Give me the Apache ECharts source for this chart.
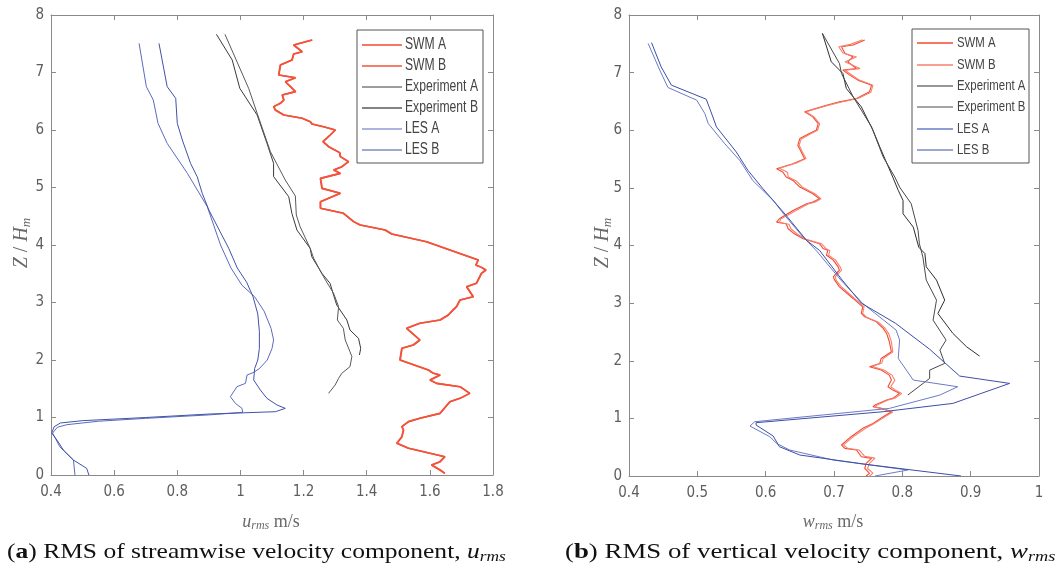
<!DOCTYPE html>
<html><head><meta charset="utf-8">
<script src="https://cdn.jsdelivr.net/npm/echarts@6/dist/echarts.min.js"></script>
<style>html,body{margin:0;padding:0;background:#fff}#c{width:1061px;height:574px}</style>
</head><body><div id="c"></div>
<script>
// ---------- tick labels ----------
const uTicks = [0.4, 0.6, 0.8, 1.0, 1.2, 1.4, 1.6, 1.8];
const wTicks = [0.4, 0.5, 0.6, 0.7, 0.8, 0.9, 1.0];
const zTicks = [0, 1, 2, 3, 4, 5, 6, 7, 8];
const seriesNames = ['SWM A', 'SWM B', 'Experiment A', 'Experiment B', 'LES A', 'LES B'];

// ---------- (a) u_rms  [value, Z/Hm] ----------
const swmA_u = [[1.226,7.565],[1.168,7.478],[1.195,7.362],[1.168,7.32],[1.163,7.217],[1.126,7.13],[1.121,6.957],[1.174,6.91],[1.142,6.84],[1.174,6.667],[1.132,6.609],[1.137,6.522],[1.126,6.464],[1.105,6.406],[1.11,6.348],[1.137,6.261],[1.195,6.203],[1.221,6.145],[1.226,6.104],[1.263,6.058],[1.3,6.0],[1.284,5.913],[1.261,5.797],[1.279,5.71],[1.314,5.606],[1.316,5.536],[1.342,5.449],[1.321,5.362],[1.295,5.304],[1.316,5.246],[1.253,5.159],[1.258,4.985],[1.316,4.899],[1.253,4.754],[1.253,4.638],[1.326,4.551],[1.358,4.406],[1.379,4.348],[1.458,4.261],[1.479,4.191],[1.589,4.058],[1.663,3.913],[1.753,3.739],[1.745,3.652],[1.763,3.611],[1.777,3.565],[1.763,3.507],[1.747,3.333],[1.716,3.275],[1.737,3.101],[1.695,3.043],[1.684,2.928],[1.668,2.841],[1.658,2.783],[1.632,2.696],[1.568,2.638],[1.526,2.551],[1.568,2.348],[1.547,2.261],[1.511,2.203],[1.505,2.0],[1.595,1.826],[1.611,1.768],[1.632,1.739],[1.6,1.652],[1.621,1.594],[1.695,1.536],[1.726,1.42],[1.695,1.333],[1.663,1.275],[1.632,1.072],[1.568,0.986],[1.532,0.928],[1.511,0.841],[1.516,0.783],[1.511,0.667],[1.495,0.551],[1.532,0.464],[1.6,0.377],[1.647,0.319],[1.632,0.232],[1.605,0.174],[1.632,0.087],[1.647,0.029]];
const swmB_u = [[1.228,7.565],[1.170,7.478],[1.196,7.362],[1.169,7.32],[1.164,7.217],[1.127,7.13],[1.122,6.957],[1.175,6.91],[1.143,6.84],[1.175,6.667],[1.133,6.609],[1.138,6.522],[1.127,6.464],[1.106,6.406],[1.111,6.348],[1.138,6.261],[1.196,6.203],[1.222,6.145],[1.227,6.104],[1.264,6.058],[1.301,6.0],[1.285,5.913],[1.262,5.797],[1.280,5.71],[1.315,5.606],[1.317,5.536],[1.343,5.449],[1.322,5.362],[1.296,5.304],[1.317,5.246],[1.254,5.159],[1.259,4.985],[1.317,4.899],[1.254,4.754],[1.254,4.638],[1.327,4.551],[1.359,4.406],[1.380,4.348],[1.459,4.261],[1.480,4.191],[1.590,4.058],[1.664,3.913],[1.754,3.739],[1.746,3.652],[1.764,3.611],[1.778,3.565],[1.764,3.507],[1.748,3.333],[1.717,3.275],[1.738,3.101],[1.696,3.043],[1.685,2.928],[1.669,2.841],[1.659,2.783],[1.633,2.696],[1.569,2.638],[1.527,2.551],[1.569,2.348],[1.548,2.261],[1.512,2.203],[1.506,2.0],[1.596,1.826],[1.612,1.768],[1.633,1.739],[1.601,1.652],[1.622,1.594],[1.696,1.536],[1.727,1.42],[1.696,1.333],[1.664,1.275],[1.633,1.072],[1.569,0.986],[1.533,0.928],[1.512,0.841],[1.517,0.783],[1.512,0.667],[1.496,0.551],[1.533,0.464],[1.601,0.377],[1.648,0.319],[1.633,0.232],[1.606,0.174],[1.633,0.087],[1.648,0.029]];
const expA_u = [[0.924,7.664],[0.974,7.217],[0.998,6.725],[1.053,6.26],[1.084,5.77],[1.105,5.42],[1.105,5.19],[1.153,4.84],[1.163,4.55],[1.179,4.26],[1.221,3.94],[1.226,3.797],[1.258,3.507],[1.284,3.333],[1.295,3.13],[1.305,2.957],[1.337,2.696],[1.347,2.522],[1.374,2.377],[1.381,2.203],[1.377,2.087]];
const expB_u = [[0.951,7.664],[1.026,6.725],[1.053,6.29],[1.095,5.623],[1.142,5.13],[1.174,4.852],[1.177,4.522],[1.189,4.319],[1.221,3.942],[1.232,3.768],[1.263,3.449],[1.295,3.159],[1.311,2.928],[1.307,2.696],[1.326,2.551],[1.332,2.348],[1.347,2.145],[1.353,2.058],[1.347,1.884],[1.321,1.768],[1.311,1.681],[1.3,1.565],[1.279,1.42]];
const lesA_u = [[0.679,7.507],[0.702,6.754],[0.724,6.522],[0.739,6.116],[0.768,5.768],[0.832,5.246],[0.895,4.667],[0.937,4.0],[0.97,3.6],[1.005,3.3],[1.045,3.1],[1.075,2.85],[1.097,2.55],[1.105,2.35],[1.10,2.2],[1.085,2.0],[1.06,1.85],[1.04,1.78],[1.021,1.739],[1.016,1.594],[0.989,1.536],[0.968,1.362],[0.984,1.246],[1.005,1.159],[1.007,1.09],[0.9,1.045],[0.7,0.985],[0.55,0.935],[0.45,0.875],[0.42,0.83],[0.405,0.73],[0.428,0.49],[0.471,0.26],[0.476,0.0]];
const lesB_u = [[0.742,7.507],[0.768,6.754],[0.795,6.551],[0.8,6.116],[0.816,5.826],[0.842,5.42],[0.863,5.188],[0.879,4.899],[0.9,4.609],[0.963,3.942],[0.99,3.6],[1.02,3.35],[1.04,3.1],[1.055,2.8],[1.06,2.5],[1.06,2.2],[1.055,2.0],[1.045,1.85],[1.042,1.652],[1.063,1.478],[1.084,1.333],[1.116,1.217],[1.142,1.159],[1.111,1.101],[0.9,1.06],[0.7,1.0],[0.5,0.945],[0.43,0.905],[0.41,0.84],[0.402,0.73],[0.42,0.6],[0.439,0.435],[0.471,0.26],[0.513,0.116],[0.52,0.0]];

// ---------- (b) w_rms  [value, Z/Hm] ----------
const swmA_w = [[0.745,7.565],[0.728,7.478],[0.711,7.449],[0.716,7.333],[0.728,7.275],[0.72,7.188],[0.733,7.072],[0.713,7.043],[0.723,6.957],[0.735,6.87],[0.755,6.783],[0.752,6.667],[0.733,6.551],[0.708,6.493],[0.689,6.435],[0.657,6.319],[0.669,6.232],[0.677,6.116],[0.674,6.0],[0.664,5.942],[0.65,5.855],[0.647,5.739],[0.652,5.623],[0.657,5.507],[0.64,5.42],[0.616,5.333],[0.625,5.275],[0.63,5.188],[0.64,5.13],[0.65,5.014],[0.669,4.899],[0.679,4.812],[0.669,4.754],[0.66,4.725],[0.64,4.609],[0.62,4.464],[0.616,4.406],[0.63,4.377],[0.633,4.29],[0.642,4.203],[0.655,4.116],[0.679,4.029],[0.684,3.948],[0.691,3.919],[0.689,3.832],[0.699,3.746],[0.706,3.63],[0.708,3.572],[0.703,3.514],[0.699,3.457],[0.701,3.399],[0.708,3.283],[0.728,3.081],[0.742,2.936],[0.74,2.821],[0.745,2.763],[0.762,2.676],[0.772,2.561],[0.777,2.474],[0.781,2.329],[0.784,2.156],[0.769,2.04],[0.767,1.954],[0.752,1.896],[0.769,1.838],[0.781,1.751],[0.784,1.665],[0.779,1.549],[0.786,1.491],[0.796,1.434],[0.786,1.347],[0.777,1.318],[0.76,1.231],[0.757,1.202],[0.769,1.173],[0.784,1.116],[0.772,1.029],[0.757,0.913],[0.742,0.827],[0.725,0.682],[0.711,0.538],[0.716,0.48],[0.733,0.451],[0.74,0.335],[0.755,0.306],[0.747,0.22],[0.745,0.133],[0.752,0.046],[0.747,0.0]];
const swmB_w = [[0.742,7.57],[0.724,7.49],[0.707,7.45],[0.713,7.34],[0.733,7.27],[0.716,7.19],[0.738,7.07],[0.716,7.04],[0.726,6.96],[0.737,6.87],[0.757,6.78],[0.754,6.66],[0.735,6.55],[0.711,6.49],[0.691,6.43],[0.659,6.32],[0.671,6.23],[0.679,6.11],[0.676,6.0],[0.666,5.94],[0.652,5.85],[0.649,5.74],[0.654,5.62],[0.659,5.51],[0.645,5.43],[0.62,5.34],[0.632,5.27],[0.633,5.19],[0.645,5.12],[0.654,5.01],[0.672,4.9],[0.681,4.81],[0.672,4.75],[0.662,4.72],[0.643,4.6],[0.622,4.46],[0.62,4.4],[0.634,4.37],[0.637,4.29],[0.646,4.2],[0.659,4.11],[0.682,4.03],[0.688,3.95],[0.694,3.91],[0.692,3.83],[0.702,3.75],[0.709,3.63],[0.711,3.57],[0.706,3.51],[0.702,3.46],[0.703,3.4],[0.711,3.28],[0.73,3.08],[0.744,2.94],[0.742,2.82],[0.747,2.76],[0.765,2.67],[0.775,2.56],[0.78,2.47],[0.784,2.33],[0.786,2.15],[0.772,2.04],[0.77,1.96],[0.756,1.9],[0.773,1.84],[0.785,1.75],[0.789,1.66],[0.783,1.55],[0.79,1.49],[0.799,1.43],[0.789,1.35],[0.779,1.32],[0.763,1.23],[0.76,1.2],[0.771,1.17],[0.786,1.11],[0.775,1.03],[0.759,0.91],[0.745,0.82],[0.728,0.68],[0.714,0.54],[0.72,0.48],[0.737,0.45],[0.745,0.34],[0.76,0.31],[0.752,0.22],[0.749,0.13],[0.757,0.05],[0.752,0.0]];
const expA_w = [[0.683,7.681],[0.696,7.188],[0.713,6.986],[0.718,6.725],[0.74,6.406],[0.757,6.0],[0.767,5.71],[0.786,5.188],[0.794,4.957],[0.801,4.783],[0.801,4.551],[0.816,4.319],[0.824,3.971],[0.833,3.861],[0.835,3.63],[0.85,3.399],[0.862,3.052],[0.852,2.821],[0.874,2.474],[0.894,2.243],[0.913,2.081]];
const expB_w = [[0.683,7.681],[0.708,7.159],[0.711,6.986],[0.728,6.58],[0.74,6.348],[0.755,6.058],[0.772,5.536],[0.789,5.188],[0.796,5.014],[0.813,4.725],[0.823,4.261],[0.825,4.029],[0.83,3.803],[0.835,3.399],[0.85,3.052],[0.845,2.705],[0.864,2.358],[0.855,2.185],[0.862,1.954],[0.84,1.838],[0.84,1.694],[0.808,1.405]];
const lesA_w = [[0.428,7.507],[0.445,7.043],[0.457,6.742],[0.499,6.522],[0.511,6.29],[0.516,6.116],[0.54,5.768],[0.562,5.478],[0.581,5.13],[0.611,4.783],[0.63,4.493],[0.655,4.145],[0.674,3.913],[0.71,3.4],[0.742,2.994],[0.791,2.532],[0.796,2.358],[0.794,2.04],[0.816,1.665],[0.881,1.549],[0.855,1.405],[0.781,1.173],[0.584,0.942],[0.577,0.867],[0.606,0.682],[0.616,0.566],[0.635,0.451],[0.699,0.277],[0.808,0.104],[0.76,0.0]];
const lesB_w = [[0.433,7.519],[0.447,7.101],[0.462,6.783],[0.513,6.539],[0.52,6.319],[0.528,6.058],[0.557,5.623],[0.574,5.304],[0.596,4.986],[0.63,4.522],[0.66,4.087],[0.679,3.913],[0.712,3.4],[0.74,3.0],[0.79,2.65],[0.84,2.2],[0.884,1.734],[0.957,1.607],[0.874,1.26],[0.772,1.116],[0.586,0.925],[0.586,0.884],[0.611,0.694],[0.62,0.509],[0.65,0.364],[0.747,0.202],[0.886,0.0]];

// ---------- styling ----------
const AX = '#8a8a8a', LBL = '#5e5e5e';
const TICKFONT = '"DejaVu Sans Condensed","Liberation Sans",sans-serif';
const LEGFONT = '"Liberation Sans",Arial,sans-serif';
const SERIF = '"Liberation Serif","DejaVu Serif",serif';
const colorsA = ['#f2492f', '#f2533b', '#3a3a3a', '#5a5a5a', '#5b6bbd', '#4152a8'];
const colorsB = ['#f2492f', '#f7806f', '#2e2e2e', '#4a4a4a', '#6b7bc6', '#3d4ea6'];
const widthsA = [1.6, 1.6, 1, 1, 1, 1];
const widthsB = [1.1, 1.1, 1, 1, 1, 1];

const fmt = v => String(+(+v).toFixed(1));

function xAx(grid, ticks, pos) {
  return {
    gridIndex: grid, type: 'value', position: pos,
    min: ticks[0], max: ticks[ticks.length - 1], interval: +(ticks[1] - ticks[0]).toFixed(2),
    axisLine: { show: true, onZero: false, lineStyle: { color: AX, width: 1 } },
    axisTick: { show: true, inside: true, length: 5, lineStyle: { color: AX } },
    axisLabel: { show: pos === 'bottom', color: LBL, fontSize: 15, fontFamily: TICKFONT, margin: 10, formatter: fmt },
    splitLine: { show: false }
  };
}
function yAx(grid, pos) {
  return {
    gridIndex: grid, type: 'value', position: pos,
    min: zTicks[0], max: zTicks[zTicks.length - 1], interval: 1,
    axisLine: { show: true, onZero: false, lineStyle: { color: AX, width: 1 } },
    axisTick: { show: true, inside: true, length: 5, lineStyle: { color: AX } },
    axisLabel: { show: pos === 'left', color: LBL, fontSize: 15, fontFamily: TICKFONT, margin: 7 },
    splitLine: { show: false }
  };
}

const dataA = [swmA_u, swmB_u, expA_u, expB_u, lesA_u, lesB_u];
const dataB = [swmA_w, swmB_w, expA_w, expB_w, lesA_w, lesB_w];
const series = [];
seriesNames.forEach((n, i) => {
  series.push({ name: n, type: 'line', xAxisIndex: 0, yAxisIndex: 0, data: dataA[i], symbol: 'none',
    lineStyle: { color: colorsA[i], width: widthsA[i] }, itemStyle: { color: colorsA[i] }, animation: false, z: 2 });
});
seriesNames.forEach((n, i) => {
  series.push({ name: n + ' ', type: 'line', xAxisIndex: 2, yAxisIndex: 2, data: dataB[i], symbol: 'none',
    lineStyle: { color: colorsB[i], width: widthsB[i] }, itemStyle: { color: colorsB[i] }, animation: false, z: 2 });
});

// legend boxes (drawn as graphics so the narrow text can be matched)
function legendBox(box, lineX0, lineX1, textX, ys, colors, widths, fontSize) {
  const els = [{ type: 'rect', shape: { x: box[0], y: box[1], width: box[2], height: box[3] },
    style: { fill: '#fff', stroke: '#555', lineWidth: 1 }, z: 20 }];
  seriesNames.forEach((n, i) => {
    els.push({ type: 'line', shape: { x1: lineX0, y1: ys[i], x2: lineX1, y2: ys[i] },
      style: { stroke: colors[i], lineWidth: widths[i] }, z: 21 });
    els.push({ type: 'text', x: textX, y: ys[i], scaleX: 0.76, z: 21,
      style: { text: n, fill: '#444', font: fontSize + 'px ' + LEGFONT, align: 'left', verticalAlign: 'middle' } });
  });
  return els;
}

function mathLabel(x, y, rot, text, size) {
  return { type: 'text', x: x, y: y, rotation: rot, z: 10,
    style: { text: text, align: 'center', verticalAlign: 'middle',
      rich: { i: { fontFamily: SERIF, fontStyle: 'italic', fontSize: size, fill: '#6a6a6a' },
              n: { fontFamily: SERIF, fontSize: size, fill: '#6a6a6a' },
              s: { fontFamily: SERIF, fontStyle: 'italic', fontSize: Math.round(size * 0.65), fill: '#6a6a6a', padding: [Math.round(size * 0.45), 0, 0, 0] } } } };
}

function caption(x, sx, letter, body, sym) {
  return { type: 'text', x: x, y: 552, z: 10, scaleX: sx,
    style: { text: '{n|(}{b|' + letter + '}{n|) ' + body + '}{i|' + sym + '}{s|rms}', align: 'left', verticalAlign: 'middle',
      rich: { n: { fontFamily: SERIF, fontSize: 22, fill: '#111' },
              b: { fontFamily: SERIF, fontWeight: 'bold', fontSize: 22, fill: '#111' },
              i: { fontFamily: SERIF, fontStyle: 'italic', fontSize: 22, fill: '#111' },
              s: { fontFamily: SERIF, fontStyle: 'italic', fontSize: 15, fill: '#111', padding: [10, 0, 0, 0] } } } };
}

const graphics = []
  .concat(legendBox([357, 30, 126, 133], 362, 402, 405, [45, 66, 87, 108, 129, 150], colorsA, [1.3, 1.3, 1, 1.3, 1, 1], 16))
  .concat(legendBox([912, 29, 117, 134], 917, 953, 957, [43, 65, 86, 107, 129, 150], colorsB, [1.3, 1.3, 1, 1, 1.3, 1], 15))
  .concat([
    mathLabel(22, 243, Math.PI / 2, '{i|Z}{n| / }{i|H}{s|m}', 20),
    mathLabel(603, 243, Math.PI / 2, '{i|Z}{n| / }{i|H}{s|m}', 20),
    mathLabel(271, 522, 0, '{i|u}{s|rms}{n| m/s}', 18),
    mathLabel(833, 522, 0, '{i|w}{s|rms}{n| m/s}', 18),
    caption(7, 1.16, 'a', 'RMS of streamwise velocity component, ', 'u'),
    caption(565, 1.22, 'b', 'RMS of vertical velocity component, ', 'w')
  ]);

const option = {
  backgroundColor: '#fff',
  animation: false,
  grid: [
    { left: 51, top: 15, width: 442, height: 460 },
    { left: 629, top: 15, width: 410, height: 461 }
  ],
  xAxis: [xAx(0, uTicks, 'bottom'), xAx(0, uTicks, 'top'), xAx(1, wTicks, 'bottom'), xAx(1, wTicks, 'top')],
  yAxis: [yAx(0, 'left'), yAx(0, 'right'), yAx(1, 'left'), yAx(1, 'right')],
  graphic: graphics,
  series: series
};

const chart = echarts.init(document.getElementById('c'), null, { renderer: 'canvas' });
chart.setOption(option);
</script>
</body></html>
